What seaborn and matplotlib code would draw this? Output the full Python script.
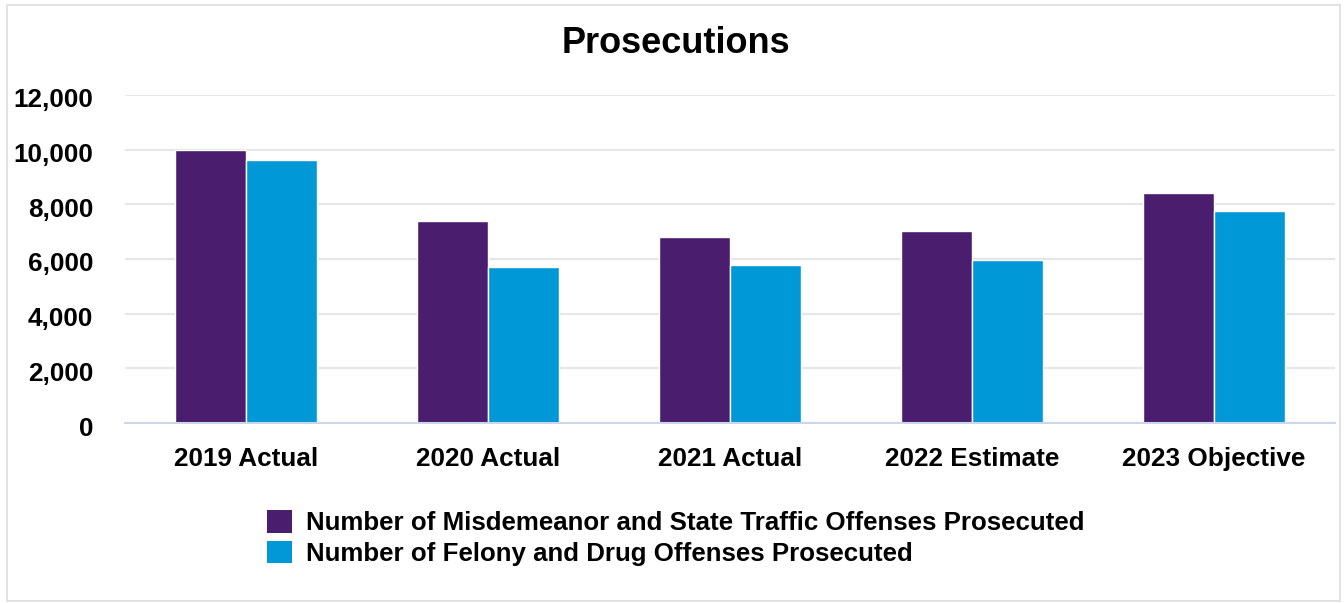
import matplotlib
matplotlib.use("Agg")
import matplotlib.pyplot as plt
import matplotlib.transforms as mtransforms
import seaborn as sns
import pandas as pd
from matplotlib.patches import Rectangle, Patch

categories = ["2019 Actual", "2020 Actual", "2021 Actual", "2022 Estimate", "2023 Objective"]
misdemeanor = [9970, 7400, 6810, 7030, 8420]
felony = [9610, 5710, 5790, 5950, 7770]
series_names = [
    "Number of Misdemeanor and State Traffic Offenses Prosecuted",
    "Number of Felony and Drug Offenses Prosecuted",
]
colors = ["#4a1d6f", "#0098d6"]
y_ticks = [0, 2000, 4000, 6000, 8000, 10000, 12000]

df = pd.DataFrame({
    "category": categories * 2,
    "value": misdemeanor + felony,
    "series": [series_names[0]] * len(categories) + [series_names[1]] * len(categories),
})

sns.set_theme(style="white")
plt.rcParams["font.family"] = ["Liberation Sans", "DejaVu Sans"]
plt.rcParams["text.color"] = "black"
plt.rcParams["xtick.color"] = "black"
plt.rcParams["ytick.color"] = "black"
plt.rcParams["xtick.labelcolor"] = "black"
plt.rcParams["ytick.labelcolor"] = "black"

fig = plt.figure(figsize=(13.44, 6.03), dpi=100)
ax = fig.add_axes([0.093, 0.2985, 0.9003, 0.544])

sns.barplot(data=df, x="category", y="value", hue="series", palette=colors,
            width=0.585, edgecolor="white", linewidth=1.0, saturation=1,
            legend=False, ax=ax)

ax.set_xlim(-0.5, len(categories) - 0.5)
ax.set_ylim(0, 12000)
ax.set_yticks(y_ticks)
ax.set_yticklabels([f"{v:,}" for v in y_ticks], fontsize=18.8, fontweight="bold")
ax.set_xticks(range(len(categories)))
ax.set_xticklabels(categories, fontsize=18.8, fontweight="bold")
ax.set_xlabel("")
ax.set_ylabel("")
ax.tick_params(axis="y", length=0, pad=23)
ax.tick_params(axis="x", length=0, pad=17)
ax.yaxis.grid(True, color="#e6e6e6", linewidth=1.5)
ax.set_axisbelow(True)
for side in ["top", "right", "left"]:
    ax.spines[side].set_visible(False)
ax.spines["bottom"].set_color("#ccd6eb")
ax.spines["bottom"].set_linewidth(1.5)

# value labels sit slightly below their gridlines
shift = mtransforms.ScaledTranslation(0, -3 / 100, fig.dpi_scale_trans)
for lbl in ax.get_yticklabels():
    lbl.set_transform(lbl.get_transform() + shift)

fig.text(0.503, 0.928, "Prosecutions", ha="center", va="center",
         fontsize=26, fontweight="bold")

handles = [Patch(facecolor=c, edgecolor="none") for c in colors]
fig.legend(handles, series_names, loc="upper left", bbox_to_anchor=(0.191, 0.171),
           frameon=False, prop={"size": 18.6, "weight": "bold"},
           handlelength=0.95, handleheight=0.95, handletextpad=0.55,
           labelspacing=0.22, borderaxespad=0)

fig.patches.append(Rectangle((0.005, 0.003), 0.992, 0.989, transform=fig.transFigure,
                             fill=False, edgecolor="#dddddd", linewidth=1.2))

fig.savefig("out.png", dpi=100, facecolor="white")
